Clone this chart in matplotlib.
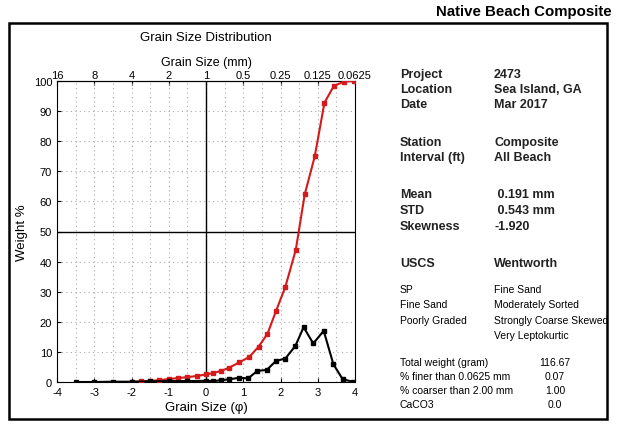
import matplotlib.pyplot as plt
from matplotlib.patches import Rectangle

# grain size data (phi units)
phi_cum = [-2.0, -1.75, -1.5, -1.25, -1.0, -0.75, -0.5, -0.25, 0.0, 0.2, 0.41, 0.63, 0.89,
           1.16, 1.41, 1.65, 1.88, 2.13, 2.41, 2.65, 2.92, 3.18, 3.43, 3.7, 3.97]
cum_pct = [0.0, 0.2, 0.4, 0.6, 1.0, 1.3, 1.6, 2.0, 2.5, 3.0, 3.7, 4.8, 6.5,
           8.3, 11.7, 16.0, 23.6, 31.6, 43.9, 62.3, 75.0, 92.8, 98.3, 99.8, 100.0]
phi_ind = [-3.5, -3.0, -2.5, -2.0, -1.5, -1.0, -0.5, 0.0, 0.2, 0.41, 0.63, 0.89,
           1.13, 1.38, 1.63, 1.88, 2.13, 2.4, 2.62, 2.88, 3.16, 3.42, 3.67, 3.94]
ind_pct = [0.0, 0.0, 0.1, 0.1, 0.2, 0.3, 0.3, 0.4, 0.3, 0.6, 0.9, 1.4,
           1.2, 3.7, 4.0, 7.0, 7.8, 12.0, 18.2, 12.8, 17.0, 5.9, 0.9, 0.1]
top_ticks = [-4, -3, -2, -1, 0, 1, 2, 3, 4]
top_labels = ['16', '8', '4', '2', '1', '0.5', '0.25', '0.125', '0.0625']

labels1 = ['Project', 'Location', 'Date', '', 'Station', 'Interval (ft)', '',
           'Mean', 'STD', 'Skewness', '', 'USCS']
values1 = ['2473', 'Sea Island, GA', 'Mar 2017', '', 'Composite', 'All Beach', '',
           ' 0.191 mm', ' 0.543 mm', '-1.920', '', 'Wentworth']
uscs = ['SP', 'Fine Sand', 'Poorly Graded', '']
wentworth = ['Fine Sand', 'Moderately Sorted', 'Strongly Coarse Skewed', 'Very Leptokurtic']
stat_names = ['Total weight (gram)', '% finer than 0.0625 mm', '% coarser than 2.00 mm', 'CaCO3']
stat_vals = ['116.67', '0.07', '1.00', '0.0']

plt.rcParams['font.family'] = ['Liberation Sans', 'DejaVu Sans']
plt.rcParams['axes.unicode_minus'] = False

fig = plt.figure(figsize=(6.18, 4.27), dpi=100)
W, H = 618, 427

def fx(x):
    return x / W

def fy(y):
    return 1 - y / H

# outer frame
fig.patches.append(Rectangle((fx(9), fy(420)), fx(598), (420 - 24) / H, transform=fig.transFigure,
                             fill=False, lw=1.8, ec='black'))
fig.text(fx(612), fy(12), 'Native Beach Composite', ha='right', va='center',
         fontsize=10.8, fontweight='bold')

ax = fig.add_axes([fx(57), fy(383), 298 / W, 301 / H])
ax.plot(phi_cum, cum_pct, color='#d41a1a', lw=1.5, marker='s', ms=2.2, zorder=3)
ax.plot(phi_ind, ind_pct, color='black', lw=1.5, marker='s', ms=2.2, zorder=4)
ax.axvline(0, color='black', lw=1.0, zorder=2)
ax.axhline(50, color='black', lw=1.0, zorder=2)
ax.set_xlim(-4, 4)
ax.set_ylim(0, 100)
ax.set_xticks(range(-4, 5))
ax.set_xticks([x + 0.5 for x in range(-4, 4)], minor=True)
ax.set_yticks(range(0, 101, 10))
ax.grid(True, which='both', axis='x', color='#aaaaaa', ls=(0, (1, 3)), lw=0.8)
ax.grid(True, which='major', axis='y', color='#aaaaaa', ls=(0, (1, 3)), lw=0.8)
ax.tick_params(labelsize=8, direction='in', length=3)
ax.tick_params(which='minor', length=0)
ax.set_xlabel('Grain Size (\u03c6)', fontsize=9.5, labelpad=3)
ax.set_ylabel('Weight %', fontsize=9.5, labelpad=4)

top = ax.secondary_xaxis('top')
top.set_xticks(top_ticks)
top.set_xticklabels(top_labels)
top.tick_params(labelsize=8, direction='in', length=3, pad=1)
top.set_xlabel('Grain Size (mm)', fontsize=9, labelpad=3)
fig.text(fx(206), fy(38), 'Grain Size Distribution', ha='center', va='center', fontsize=9.5)

# info panel
ys = [75, 90, 105, 0, 143, 158, 0, 195, 211, 227, 0, 264]
for y, a, b in zip(ys, labels1, values1):
    if a:
        fig.text(fx(400), fy(y), a, ha='left', va='center', fontsize=9, fontweight='bold', color='#222222')
        fig.text(fx(494), fy(y), b, ha='left', va='center', fontsize=9, fontweight='bold', color='#222222')

for i, (a, b) in enumerate(zip(uscs, wentworth)):
    y = 290 + i * 15.3
    if a:
        fig.text(fx(400), fy(y), a, ha='left', va='center', fontsize=7.5)
    fig.text(fx(494), fy(y), b, ha='left', va='center', fontsize=7.5)

for i, (a, b) in enumerate(zip(stat_names, stat_vals)):
    y = 363 + i * 14
    fig.text(fx(400), fy(y), a, ha='left', va='center', fontsize=7.5)
    fig.text(fx(555), fy(y), b, ha='center', va='center', fontsize=7.5)

fig.savefig('out.png', dpi=100)
